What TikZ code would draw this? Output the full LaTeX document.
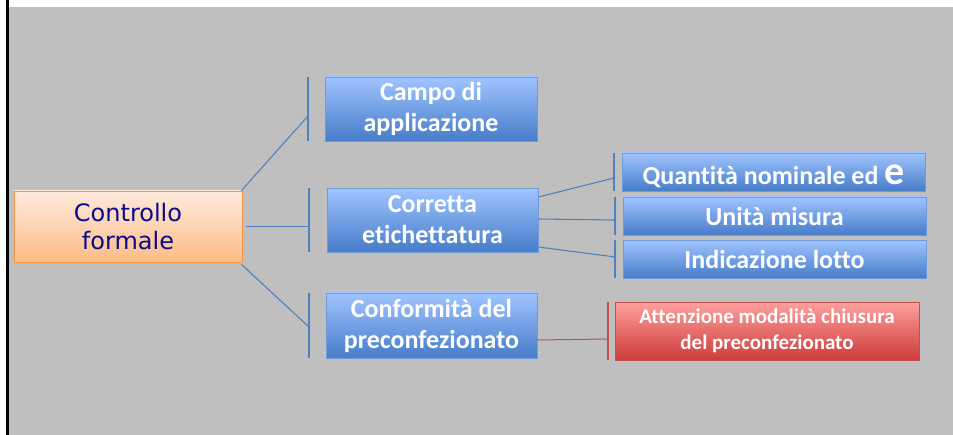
\documentclass[tikz,border=0pt]{standalone}
\usepackage{fontspec}
\setmainfont{Carlito}[Ligatures={NoCommon}]
\newfontfamily\ctrlfont{DejaVu Sans}
\usepackage{tikz}
\usetikzlibrary{positioning, calc, backgrounds}
\definecolor{slidegray}{HTML}{BFBFBF}
\definecolor{linkblue}{HTML}{4F81BD}
\definecolor{boxtop}{HTML}{A0C4FF}
\definecolor{boxbot}{HTML}{467CC9}
\definecolor{boxline}{HTML}{6E9AD6}
\definecolor{orangetop}{HTML}{FFEADC}
\definecolor{orangebot}{HTML}{FBBC86}
\definecolor{orangeline}{HTML}{F79646}
\definecolor{redtop}{HTML}{FF9F9D}
\definecolor{redbot}{HTML}{CC3C3A}
\definecolor{redline}{HTML}{C0504D}
\definecolor{navytext}{HTML}{0A0A8C}
\tikzset{
    topic/.style={rectangle, inner sep=0pt, draw=boxline, line width=0.8pt,
      top color=boxtop, bottom color=boxbot, text=white, align=center,
      font=\bfseries\fontsize{26}{31}\selectfont},
    root/.style={rectangle, inner sep=0pt, draw=orangeline, line width=0.9pt,
      top color=orangetop, bottom color=orangebot, text=navytext, align=center,
      font=\ctrlfont\fontsize{24}{27.5}\selectfont},
    warn/.style={rectangle, inner sep=0pt, draw=redline, line width=0.8pt,
      top color=redtop, bottom color=redbot, text=white, align=center,
      font=\bfseries\fontsize{21}{25.5}\selectfont},
    link/.style={draw=linkblue, line width=1.1pt},
    brace/.style={draw=linkblue, line width=2pt},
}

\begin{document}
\begin{tikzpicture}[x=1pt, y=-1pt]
    \useasboundingbox (0,0) rectangle (953,435);
    \fill[slidegray] (8,7) rectangle (953,435);
    \fill[black] (5.5,0) rectangle (8.5,435);

    \node[root, minimum width=228, minimum height=71] (ctrl) at (128,226.5) {Controllo\\formale};

    \node[topic, minimum width=212, minimum height=64] (campo) at (431,109) {Campo di\\applicazione};
    \node[topic, minimum width=211, minimum height=64] (corr) at (432.5,220) {Corretta\\etichettatura};
    \node[topic, minimum width=211, minimum height=65] (conf) at (431.5,325.5) {Conformità del\\preconfezionato};

    \node[topic, minimum width=303, minimum height=38, text height=26pt, text depth=0pt] (qta) at (773.5,172)
      {Quantità nominale ed {\fontsize{40}{26}\selectfont e}};
    \node[topic, minimum width=303, minimum height=38] (uni) at (774.5,216) {Unità misura};
    \node[topic, minimum width=303, minimum height=38] (lot) at (774.5,259) {Indicazione lotto};

    \node[warn, minimum width=304, minimum height=58] (att) at (767,331)
      {Attenzione modalità chiusura\\del preconfezionato};

    % joints on the brackets
    \coordinate (jcampo) at (308,116);
    \coordinate (jcorr) at (309,226.5);
    \coordinate (jconf) at (309,327);
    \coordinate (jqta) at (614,178);
    \coordinate (juni) at (615,220);
    \coordinate (jlot) at (615,257);
    \coordinate (jatt) at (608,339);

    \draw[brace] (jcampo |- campo.north) -- (jcampo |- campo.south);
    \draw[brace] (jcorr |- corr.north) -- (jcorr |- corr.south);
    \draw[brace] (jconf |- conf.north) -- (jconf |- conf.south);
    \draw[brace] (jqta |- qta.north) -- (jqta |- qta.south);
    \draw[brace] (juni |- uni.north) -- (juni |- uni.south);
    \draw[brace] (jlot |- lot.north) -- (jlot |- lot.south);
    \draw[brace, draw=redline, line width=1.4pt] (jatt |- att.north) -- (jatt |- att.south);

    \draw[link] ([xshift=-1]ctrl.north east) -- (jcampo);
    \draw[link] ([xshift=4]ctrl.east) -- (jcorr);
    \draw[link] ([shift={(-1,2)}]ctrl.south east) -- (jconf);

    \draw[link] ([yshift=23]corr.east) -- (jqta);
    \draw[link] ([yshift=1]corr.east) -- (juni);
    \draw[link] ([yshift=-27]corr.east) -- (jlot);

    \draw[draw=redline, line width=1pt] ([yshift=-14.5]conf.east) -- (jatt);
\end{tikzpicture}
\end{document}
